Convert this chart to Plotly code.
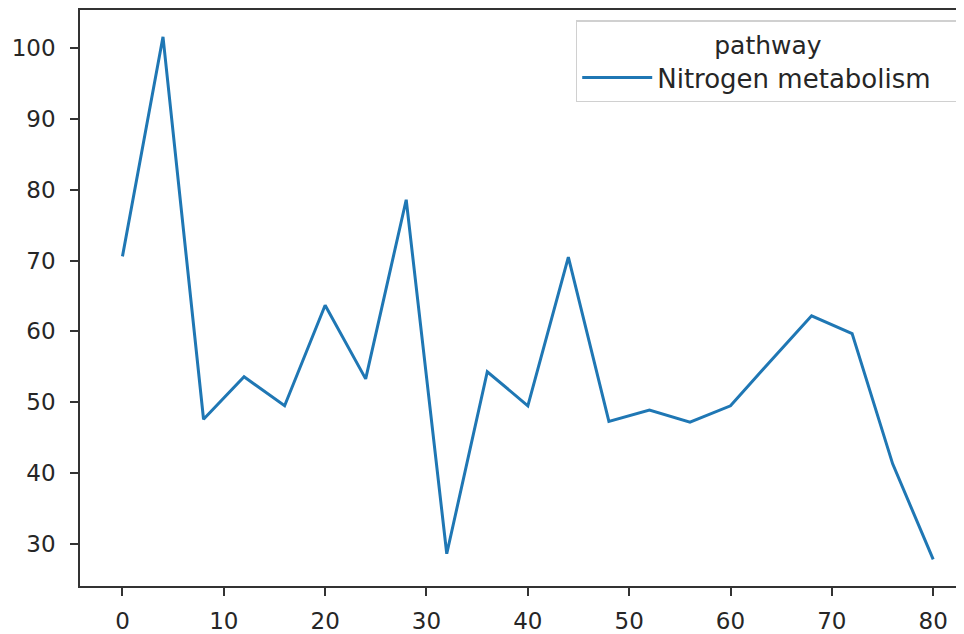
import plotly.graph_objects as go

x_vals = [0, 4, 8, 12, 16, 20, 24, 28, 32, 36, 40, 44, 48, 52, 56, 60, 64, 68, 72, 76, 80]
y_vals = [70.6, 101.6, 47.6, 53.6, 49.5, 63.7, 53.3, 78.6, 28.6, 54.3, 49.5, 70.5,
          47.3, 48.9, 47.2, 49.5, 55.9, 62.2, 59.7, 41.3, 27.8]
series_name = "Nitrogen metabolism"
legend_title = "pathway"
x_ticks = [0, 10, 20, 30, 40, 50, 60, 70, 80]
y_ticks = [30, 40, 50, 60, 70, 80, 90, 100]

font_family = "DejaVu Sans, sans-serif"
text_color = "#262626"
spine = "#333333"

fig = go.Figure()
fig.add_trace(go.Scatter(
    x=x_vals, y=y_vals, mode="lines", name=series_name,
    line=dict(color="#1f77b4", width=3),
    showlegend=True,
))

axis_common = dict(
    showgrid=False, zeroline=False, showline=True, linecolor=spine, linewidth=1.6,
    ticks="outside", ticklen=8, tickwidth=1.6, tickcolor=spine,
    tickfont=dict(family=font_family, size=23, color=text_color),
)

fig.update_layout(
    width=956, height=626,
    margin=dict(l=72, r=0, t=0, b=45, pad=0),
    paper_bgcolor="white", plot_bgcolor="white",
    xaxis=dict(range=[-4.19, 83.04], tickvals=x_ticks, ticktext=[str(v) for v in x_ticks],
               mirror=True, ticklabelstandoff=6, **axis_common),
    yaxis=dict(range=[24.05, 105.39], tickvals=y_ticks, ticktext=[str(v) for v in y_ticks],
               mirror=False, ticklabelstandoff=10, **axis_common),
    legend=dict(
        orientation="h",
        title=dict(text=legend_title, side="top center",
                   font=dict(family=font_family, size=25, color=text_color)),
        font=dict(family=font_family, size=26, color=text_color),
        x=0.9955, y=0.982, xanchor="right", yanchor="top",
        itemwidth=70, entrywidth=296, entrywidthmode="pixels",
        bordercolor="#d0d0d0", borderwidth=1.2, bgcolor="white",
    ),
    font=dict(family=font_family, color=text_color),
)

fig.write_html("out.html")
